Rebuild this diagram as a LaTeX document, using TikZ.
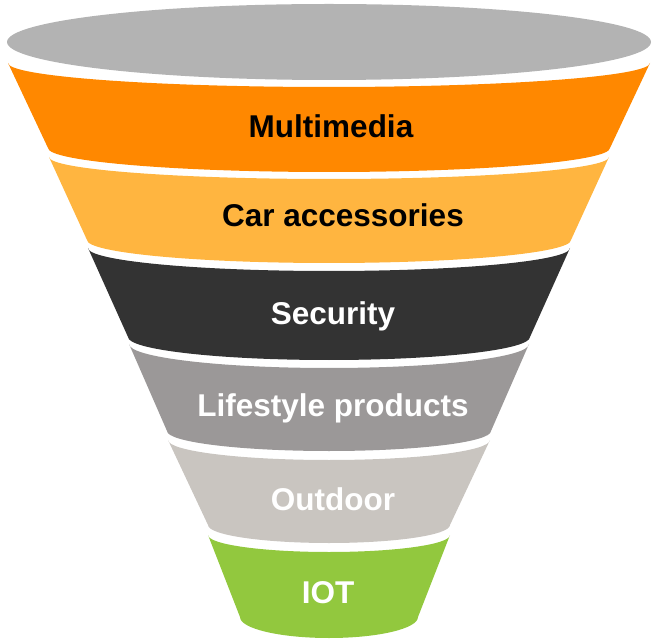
\documentclass[tikz,border=0pt]{standalone}
\usepackage{fontspec}
\setmainfont{Liberation Sans}

\definecolor{rimgray}{HTML}{B3B3B3}
\definecolor{bandorange}{HTML}{FF8800}
\definecolor{bandyellow}{HTML}{FFB540}
\definecolor{banddark}{HTML}{333333}
\definecolor{bandgray}{HTML}{9B9898}
\definecolor{bandsand}{HTML}{C9C5C0}
\definecolor{bandgreen}{HTML}{92C83E}

\tikzset{
  bandtext/.style={anchor=base, inner sep=0pt,
    font=\fontsize{31.5}{31.5}\selectfont\bfseries}
}

\begin{document}
\begin{tikzpicture}[x=1pt,y=1pt]
  \useasboundingbox (0,0) rectangle (656,-644);

  % Define the centre line of the funnel
  \def\cx{329}

  % Draw the opening of the funnel
  \fill[rimgray] (\cx,-42) ellipse (322pt and 38pt);

  % Draw the bands (top y / top half width / top sag / bottom y / bottom half width / bottom sag / colour)
  \foreach \ty/\tw/\ts/\by/\bw/\bs/\fc in {
      63/321/24/148/281/24/bandorange,
      157/280/22/240/242/23/bandyellow,
      248/241/23/337/201/23/banddark,
      344/200/24/431/162/20/bandgray,
      440/161/20/525/121/18/bandsand,
      535/121/17/617/89/21/bandgreen}
    \fill[\fc] (\cx-\tw,-\ty) arc (180:360:\tw pt and \ts pt)
      -- (\cx+\bw,-\by) arc (0:-180:\bw pt and \bs pt) -- cycle;

  % Label the bands
  \node[bandtext, text=black] (multimedia) at (331,-138) {Multimedia};
  \node[bandtext, text=black] (car) at (343,-227) {Car accessories};
  \node[bandtext, text=white] (security) at (333,-324) {Security};
  \node[bandtext, text=white] (lifestyle) at (333,-416) {Lifestyle products};
  \node[bandtext, text=white] (outdoor) at (333,-510) {Outdoor};
  \node[bandtext, text=white] (iot) at (328,-603) {IOT};

\end{tikzpicture}
\end{document}
